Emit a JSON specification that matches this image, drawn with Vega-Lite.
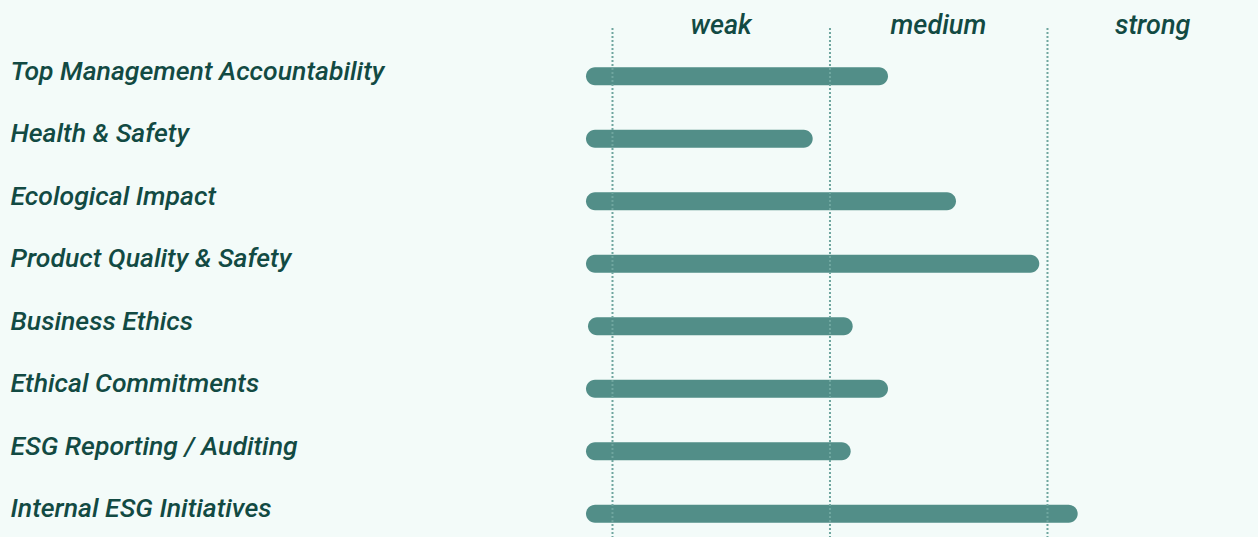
{
  "$schema": "https://vega.github.io/schema/vega-lite/v6.json",
  "autosize": {"type": "none"},
  "width": 672,
  "height": 509,
  "padding": {"left": 586, "top": 28, "right": 0, "bottom": 0},
  "background": "#f3fbf9",
  "config": {"view": {"stroke": null}},
  "datasets": {
    "bars": [
      {"item": "Top Management Accountability", "start": 0.8782, "score": 2.2667},
      {"item": "Health & Safety", "start": 0.8782, "score": 1.9205},
      {"item": "Ecological Impact", "start": 0.8782, "score": 2.5793},
      {"item": "Product Quality & Safety", "start": 0.8782, "score": 2.9623},
      {"item": "Business Ethics", "start": 0.8874, "score": 2.1044},
      {"item": "Ethical Commitments", "start": 0.8782, "score": 2.2667},
      {"item": "ESG Reporting / Auditing", "start": 0.8782, "score": 2.0952},
      {"item": "Internal ESG Initiatives", "start": 0.8782, "score": 3.1389}
    ],
    "levels": [{"level": 1}, {"level": 2}, {"level": 3}]
  },
  "layer": [
    {
      "data": {"name": "bars"},
      "mark": {"type": "bar", "color": "#528e88", "cornerRadius": 9},
      "encoding": {
        "y": {
          "field": "item",
          "type": "nominal",
          "sort": null,
          "scale": {"paddingInner": 0.712, "paddingOuter": 0.4276, "align": 0.734},
          "axis": {
            "title": null,
            "orient": "left",
            "ticks": false,
            "tickSize": 0,
            "domain": false,
            "grid": false,
            "labelAlign": "left",
            "labelBaseline": "alphabetic",
            "labelOffset": 3.5,
            "labelPadding": 576,
            "labelLimit": 700,
            "labelFont": "Roboto",
            "labelFontStyle": "italic",
            "labelFontWeight": 500,
            "labelFontSize": 26.6,
            "labelColor": "#124a43"
          }
        },
        "x": {
          "field": "start",
          "type": "quantitative",
          "scale": {"domain": [0.8782, 3.9679], "nice": false, "zero": false},
          "axis": {
            "title": null,
            "orient": "top",
            "values": [1.497, 2.496, 3.481],
            "labelExpr": "datum.value < 2 ? 'weak' : datum.value < 3 ? 'medium' : 'strong'",
            "ticks": false,
            "tickSize": 0,
            "domain": false,
            "grid": false,
            "labelOverlap": false,
            "labelFlush": false,
            "labelAlign": "center",
            "labelBaseline": "alphabetic",
            "labelPadding": -5,
            "labelFont": "Roboto",
            "labelFontStyle": "italic",
            "labelFontWeight": 500,
            "labelFontSize": 27,
            "labelColor": "#124a43"
          }
        },
        "x2": {"field": "score"}
      }
    },
    {
      "data": {"name": "levels"},
      "mark": {"type": "rule", "color": "#6fa69f", "strokeWidth": 2, "strokeDash": [2, 2]},
      "encoding": {
        "x": {"field": "level", "type": "quantitative"}
      }
    }
  ]
}
